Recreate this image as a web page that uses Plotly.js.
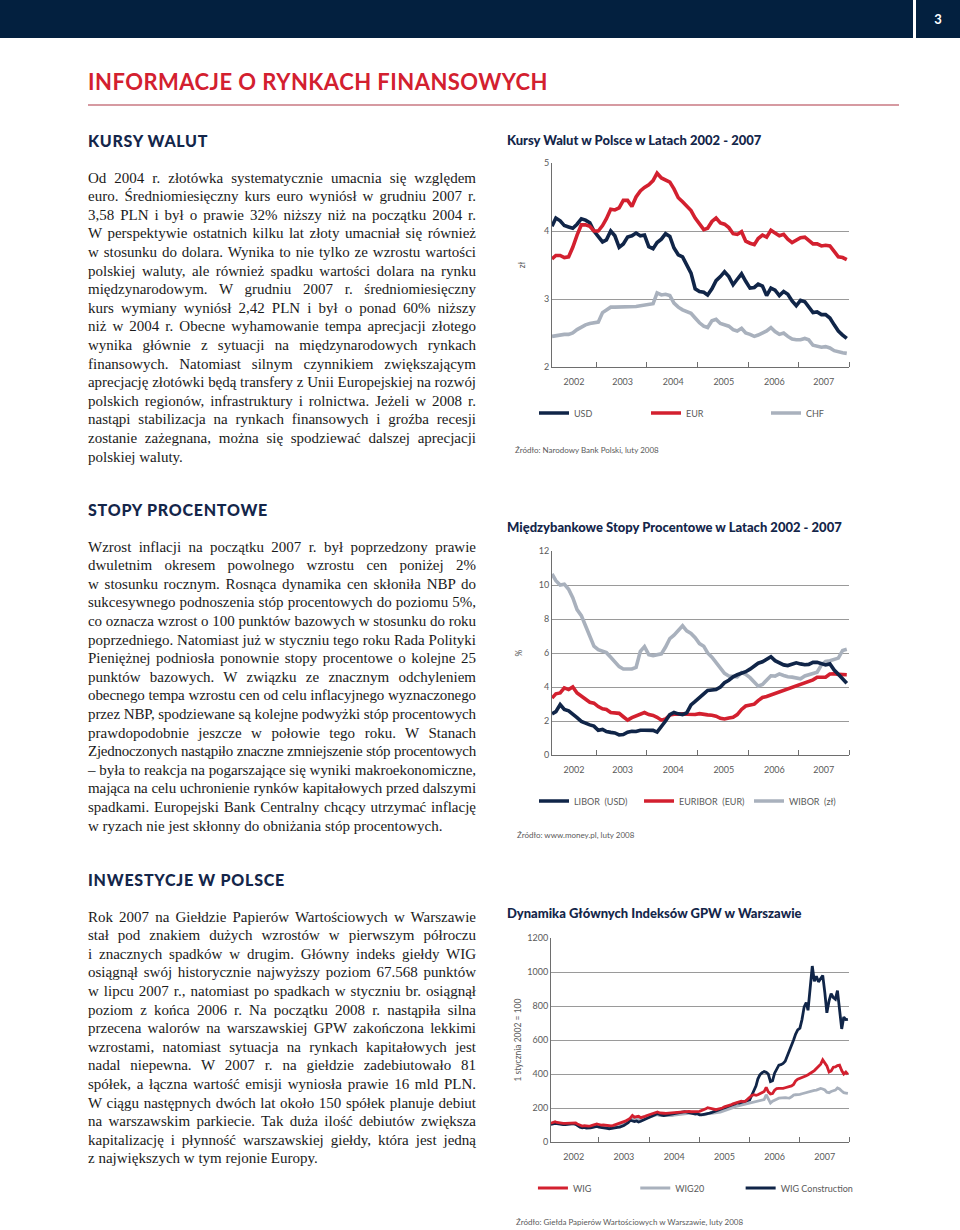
<!DOCTYPE html>
<html><head><meta charset="utf-8">
<script src="https://cdn.plot.ly/plotly-3.0.1.min.js"></script>
<style>
html,body{margin:0;padding:0;background:#fff;}
#page{position:relative;width:960px;height:1230px;overflow:hidden;background:#fff;}
.topbar{position:absolute;left:0;top:0;width:913px;height:38px;background:#03203f;}
.topbox{position:absolute;left:916px;top:0;width:44px;height:38px;background:#03203f;color:#fff;font:bold 13px Lato,sans-serif;text-align:center;line-height:38px;}
.maintitle{position:absolute;left:88px;top:70px;font:700 22px Lato,sans-serif;color:#d3202f;line-height:24px;white-space:nowrap;}
.rule{position:absolute;left:88px;top:104px;width:811px;height:2px;background:#d69aa1;}
.head{position:absolute;left:88px;font:900 16px Lato,sans-serif;color:#14264a;line-height:20px;white-space:nowrap;}
.para{position:absolute;left:88px;width:388px;font:15px "Liberation Serif",serif;color:#1a1a1a;}
.ln{height:18.6px;line-height:18.6px;text-align:justify;text-align-last:justify;}
.ln.last{text-align-last:left;}
.chart{position:absolute;left:500px;width:420px;}
</style></head>
<body><div id="page">
<div class="topbar"></div><div class="topbox">3</div>
<div class="maintitle" data-w="460">INFORMACJE O RYNKACH FINANSOWYCH</div>
<div class="rule"></div>
<div class="head" style="top:131px" data-w="120">KURSY WALUT</div>
<div class="head" style="top:500px" data-w="180">STOPY PROCENTOWE</div>
<div class="head" style="top:870px" data-w="197">INWESTYCJE W POLSCE</div>
<div class="para" id="p1" style="top:168.7px"></div>
<div class="para" id="p2" style="top:537.7px"></div>
<div class="para" id="p3" style="top:907.7px"></div>
<div class="chart" id="c1" style="top:125px;height:340px"></div>
<div class="chart" id="c2" style="top:512px;height:335px"></div>
<div class="chart" id="c3" style="top:900px;height:330px"></div>
</div>
<script>
// ---------- text ----------
const para1 = [
"Od 2004 r. złotówka systematycznie umacnia się względem",
"euro. Średniomiesięczny kurs euro wyniósł w grudniu 2007 r.",
"3,58 PLN i był o prawie 32% niższy niż na początku 2004 r.",
"W perspektywie ostatnich kilku lat złoty umacniał się również",
"w stosunku do dolara. Wynika to nie tylko ze wzrostu wartości",
"polskiej waluty, ale również spadku wartości dolara na rynku",
"międzynarodowym. W grudniu 2007 r. średniomiesięczny",
"kurs wymiany wyniósł 2,42 PLN i był o ponad 60% niższy",
"niż w 2004 r. Obecne wyhamowanie tempa aprecjacji złotego",
"wynika głównie z sytuacji na międzynarodowych rynkach",
"finansowych. Natomiast silnym czynnikiem zwiększającym",
"aprecjację złotówki będą transfery z Unii Europejskiej na rozwój",
"polskich regionów, infrastruktury i rolnictwa. Jeżeli w 2008 r.",
"nastąpi stabilizacja na rynkach finansowych i groźba recesji",
"zostanie zażegnana, można się spodziewać dalszej aprecjacji",
"polskiej waluty."];
const para2 = [
"Wzrost inflacji na początku 2007 r. był poprzedzony prawie",
"dwuletnim okresem powolnego wzrostu cen poniżej 2%",
"w stosunku rocznym. Rosnąca dynamika cen skłoniła NBP do",
"sukcesywnego podnoszenia stóp procentowych do poziomu 5%,",
"co oznacza wzrost o 100 punktów bazowych w stosunku do roku",
"poprzedniego. Natomiast już w styczniu tego roku Rada Polityki",
"Pieniężnej podniosła ponownie stopy procentowe o kolejne 25",
"punktów bazowych. W związku ze znacznym odchyleniem",
"obecnego tempa wzrostu cen od celu inflacyjnego wyznaczonego",
"przez NBP, spodziewane są kolejne podwyżki stóp procentowych",
"prawdopodobnie jeszcze w połowie tego roku. W Stanach",
"Zjednoczonych nastąpiło znaczne zmniejszenie stóp procentowych",
"– była to reakcja na pogarszające się wyniki makroekonomiczne,",
"mająca na celu uchronienie rynków kapitałowych przed dalszymi",
"spadkami. Europejski Bank Centralny chcący utrzymać inflację",
"w ryzach nie jest skłonny do obniżania stóp procentowych."];
const para3 = [
"Rok 2007 na Giełdzie Papierów Wartościowych w Warszawie",
"stał pod znakiem dużych wzrostów w pierwszym półroczu",
"i znacznych spadków w drugim. Główny indeks giełdy WIG",
"osiągnął swój historycznie najwyższy poziom 67.568 punktów",
"w lipcu 2007 r., natomiast po spadkach w styczniu br. osiągnął",
"poziom z końca 2006 r. Na początku 2008 r. nastąpiła silna",
"przecena walorów na warszawskiej GPW zakończona lekkimi",
"wzrostami, natomiast sytuacja na rynkach kapitałowych jest",
"nadal niepewna. W 2007 r. na giełdzie zadebiutowało 81",
"spółek, a łączna wartość emisji wyniosła prawie 16 mld PLN.",
"W ciągu następnych dwóch lat około 150 spółek planuje debiut",
"na warszawskim parkiecie. Tak duża ilość debiutów zwiększa",
"kapitalizację i płynność warszawskiej giełdy, która jest jedną",
"z największych w tym rejonie Europy."];

function buildPara(id, lines){
  const p = document.getElementById(id);
  const W = p.clientWidth;
  lines.forEach((t,i)=>{
    const d = document.createElement('div');
    d.className = 'ln' + (i===lines.length-1 ? ' last' : '');
    const s = document.createElement('span'); s.textContent = t; d.appendChild(s);
    p.appendChild(d);
    d.style.whiteSpace='nowrap'; d.style.textAlignLast='left';
    const w = s.getBoundingClientRect().width;
    d.style.whiteSpace=''; d.style.textAlignLast='';
    if (w > W - 0.5) d.style.letterSpacing = ((W - 0.8 - w)/t.length) + 'px';
  });
}
buildPara('p1', para1); buildPara('p2', para2); buildPara('p3', para3);
document.querySelectorAll('[data-w]').forEach(el=>{
  const target = +el.dataset.w; const n = el.textContent.length;
  const w = el.getBoundingClientRect().width;
  el.style.letterSpacing = ((target - w)/n) + 'px';
});

// ---------- data ----------
function monthDates(y0,m0,y1,m1){const out=[];let y=y0,m=m0;while(y<y1||(y===y1&&m<=m1)){out.push(y+'-'+String(m).padStart(2,'0')+'-15');m++;if(m>12){m=1;y++;}}return out;}
function halfMonthDates(){const out=['2002-01-16'];for(let y=2002;y<=2007;y++)for(let m=1;m<=12;m++){if(y===2002&&m===1)continue;const mm=String(m).padStart(2,'0');out.push(y+'-'+mm+'-01');out.push(y+'-'+mm+'-16');}return out;}
const months = monthDates(2002,2,2007,12);
const halfMonths = halfMonthDates();
const years = ['2002','2003','2004','2005','2006','2007'];

// Kursy walut (PLN), monthly Feb 2002 - Dec 2007
const usd = [4.07,4.19,4.15,4.08,4.06,4.04,4.10,4.18,4.16,4.12,4.00,
 3.91,3.84,3.87,4.00,3.93,3.76,3.81,3.91,3.93,3.97,3.93,3.94,
 3.77,3.74,3.83,3.88,3.96,3.92,3.75,3.65,3.62,3.50,3.38,3.15,
 3.11,3.10,3.06,3.15,3.27,3.33,3.40,3.33,3.21,3.29,3.37,3.26,
 3.16,3.17,3.22,3.19,3.05,3.16,3.13,3.05,3.11,3.07,2.97,2.90,
 2.98,2.96,2.88,2.80,2.81,2.77,2.77,2.72,2.62,2.53,2.47,2.42];
const eur = [3.59,3.64,3.64,3.61,3.62,3.76,3.94,4.09,4.09,4.07,4.00,
 4.00,4.08,4.18,4.32,4.31,4.34,4.45,4.45,4.36,4.50,4.59,4.64,
 4.68,4.74,4.85,4.78,4.75,4.72,4.62,4.49,4.43,4.37,4.30,4.19,
 4.11,4.02,4.04,4.14,4.19,4.12,4.10,4.05,3.96,3.95,3.99,3.85,
 3.82,3.80,3.89,3.94,3.91,4.01,3.97,3.93,3.95,3.88,3.83,3.86,
 3.90,3.91,3.86,3.81,3.81,3.78,3.79,3.78,3.70,3.62,3.61,3.58];
const chf = [2.45,2.46,2.48,2.48,2.48,2.50,2.55,2.59,2.62,2.64,2.65,
 2.66,2.80,2.84,2.88,2.88,2.88,2.88,2.89,2.88,2.89,2.90,2.91,
 2.92,2.93,3.09,3.06,3.07,3.05,2.94,2.88,2.84,2.82,2.79,2.72,
 2.65,2.60,2.58,2.68,2.70,2.64,2.62,2.60,2.55,2.53,2.57,2.50,
 2.48,2.45,2.47,2.50,2.53,2.58,2.52,2.48,2.50,2.45,2.41,2.40,
 2.40,2.42,2.40,2.32,2.30,2.29,2.30,2.28,2.24,2.22,2.21,2.20];

// Stopy procentowe (%), monthly Feb 2002 - Dec 2007
const libor = [2.42,2.55,2.97,2.68,2.60,2.42,2.20,1.98,1.85,1.77,1.70,
 1.45,1.50,1.38,1.33,1.30,1.18,1.20,1.34,1.40,1.38,1.46,1.46,
 1.46,1.45,1.35,1.65,2.00,2.38,2.50,2.42,2.38,2.48,2.95,3.15,
 3.35,3.60,3.80,3.82,3.85,4.00,4.25,4.40,4.60,4.72,4.80,4.90,
 5.05,5.23,5.40,5.48,5.65,5.78,5.55,5.42,5.30,5.26,5.33,5.42,
 5.36,5.31,5.33,5.45,5.45,5.40,5.30,5.36,5.00,4.75,4.48,4.22];
const euribor = [3.35,3.60,3.65,3.95,3.85,4.00,3.65,3.45,3.30,3.10,3.05,
 2.85,2.72,2.68,2.50,2.48,2.45,2.25,2.05,2.20,2.30,2.42,2.50,
 2.38,2.33,2.22,2.05,2.12,2.35,2.40,2.42,2.42,2.40,2.38,2.38,
 2.43,2.38,2.36,2.34,2.28,2.16,2.12,2.18,2.22,2.38,2.68,2.88,
 2.95,2.99,3.20,3.38,3.44,3.53,3.57,3.68,3.76,3.85,3.98,4.07,
 4.12,4.23,4.33,4.42,4.57,4.57,4.57,4.76,4.78,4.74,4.72,4.72];
const wibor = [10.65,10.25,10.0,10.05,9.75,9.25,8.55,8.2,7.6,6.95,6.4,
 6.2,6.13,6.02,5.75,5.5,5.2,5.06,5.06,5.06,5.15,6.1,6.38,
 5.9,5.85,5.92,5.95,6.35,6.85,7.05,7.35,7.6,7.3,7.15,6.9,
 6.55,6.4,6.0,5.75,5.45,5.1,4.8,4.65,4.6,4.6,4.85,4.75,
 4.55,4.3,4.05,4.15,4.38,4.66,4.64,4.77,4.68,4.6,4.58,4.55,
 4.48,4.65,4.72,4.77,4.87,5.3,5.5,5.55,5.62,5.7,6.15,6.22];

// Indeksy GPW (1 stycznia 2002 = 100), semi-monthly
const wig = [110,115,119,115,112,111,110,109,110,112,113,114,112,104,97,94,96,93,93,95,99,104,106,
 103,99,100,98,96,94,95,98,102,105,108,113,118,124,132,140,156,146,149,151,143,145,151,156,
 160,164,170,172,177,171,172,169,168,169,170,172,174,177,177,179,180,181,182,180,178,177,177,179,
 180,184,189,195,202,198,195,192,190,194,196,200,207,210,215,218,224,229,233,238,240,238,240,252,
 265,274,278,275,278,284,290,297,322,295,283,285,305,314,316,314,315,319,322,325,330,338,360,370,
 375,377,382,390,396,402,412,420,432,445,458,483,465,448,412,418,440,442,450,452,420,400,412,398];
const wig20 = [108,112,115,112,108,107,106,105,106,108,109,110,107,99,92,89,91,88,88,90,93,98,100,
 97,93,94,92,89,87,88,90,94,97,100,104,109,115,122,130,142,134,136,138,131,133,138,143,
 147,150,155,157,161,156,156,153,152,153,154,156,158,160,160,162,164,166,168,170,170,168,166,164,
 163,161,160,163,168,170,169,170,171,174,176,180,184,187,190,196,202,208,211,214,218,221,224,227,
 230,232,235,237,239,242,245,250,278,250,229,240,248,252,258,260,262,261,259,258,266,276,278,278,
 280,284,288,292,296,299,300,303,305,309,315,312,306,293,290,297,302,305,318,312,300,290,288,286];
const wigBud = [104,108,110,108,105,104,103,102,104,106,107,108,104,95,87,84,86,82,81,83,86,90,92,
 88,85,86,83,80,78,79,81,84,86,88,92,97,105,114,128,122,120,124,118,122,128,135,140,
 145,152,160,162,166,160,158,156,158,160,163,166,170,172,170,172,175,178,176,172,168,166,164,167,
 160,160,162,164,167,170,174,178,183,188,191,197,200,205,209,213,219,224,229,229,233,238,241,245,
 248,275,305,330,370,395,408,414,410,400,355,360,405,432,452,455,462,475,505,532,560,600,635,660,
 670,720,795,820,775,900,1035,945,975,942,960,980,880,760,830,872,850,840,890,780,665,735,720,722];

// ---------- charts ----------
const NAVY='#102548', RED='#d3202f', GRAY='#a9b1bd', TXT='#5a5a5a', FONT='Lato, sans-serif';
const labelDates12 = ['2002-07-24','2003-07-10','2004-07-10','2005-07-10','2006-07-10','2007-07-01'];
const labelDates3 = ['2002-07-01','2003-07-01','2004-07-01','2005-07-01','2006-07-01','2007-07-01'];
const yearTicks12 = ['2003-01-01','2004-01-01','2005-01-01','2006-01-01','2007-01-01','2007-12-31'];
const yearTicks3 = ['2003-01-01','2004-01-01','2005-01-01','2006-01-01','2007-01-01','2007-12-24'];

function xaxis(range, labels, ticksAt){
  return {type:'date', range:range, tickmode:'array', tickvals:labels, ticktext:years, ticks:'',
    showline:true, linecolor:'#6e6e6e', linewidth:1, showgrid:false, zeroline:false,
    tickfont:{family:FONT,size:9,color:TXT}, ticklabelstandoff:6,
    minor:{tickmode:'array', tickvals:ticksAt, ticks:'inside', ticklen:5, tickwidth:1, tickcolor:'#6e6e6e', showgrid:false}};
}
function yaxis(range, dtick, title, standoff){
  return {range:range, dtick:dtick, tick0:range[0], showgrid:true, gridcolor:'#9a9a9a', gridwidth:1,
    showline:true, linecolor:'#6e6e6e', linewidth:1, zeroline:false, ticks:'',
    tickfont:{family:FONT,size:9,color:TXT},
    title:{text:title, font:{family:FONT,size:8.5,color:TXT}, standoff:standoff}};
}
function leg(x){
  return {orientation:'h', x:x, xanchor:'left', y:-0.2255, yanchor:'middle',
    font:{family:FONT,size:9,color:TXT}, itemwidth:30, bgcolor:'rgba(0,0,0,0)', borderwidth:0};
}
function baseLayout(title, titleY, m, legX, src, srcX, srcY){
  return {
    width:420, height:m.h, margin:{l:m.l, r:m.r, t:m.t, b:m.b}, paper_bgcolor:'rgba(0,0,0,0)', plot_bgcolor:'#fff',
    font:{family:FONT,color:TXT},
    title:{text:title, x:7/420, xref:'container', xanchor:'left', y:titleY, yref:'container', yanchor:'middle',
      font:{family:FONT,size:13,weight:900,color:'#14264a'}},
    showlegend:true,
    legend:leg(legX[0]), legend2:leg(legX[1]), legend3:leg(legX[2]),
    annotations:[{text:src, xref:'paper', yref:'paper', x:srcX, y:srcY, xanchor:'left', yanchor:'middle', showarrow:false,
      font:{family:FONT,size:8,color:TXT}}]
  };
}
const cfg = {staticPlot:true, displayModeBar:false};

// Chart 1
Plotly.newPlot('c1', [
  {x:months, y:usd, name:'USD', mode:'lines', line:{color:NAVY,width:3.6}, legend:'legend'},
  {x:months, y:eur, name:'EUR', mode:'lines', line:{color:RED,width:3.6}, legend:'legend2'},
  {x:months, y:chf, name:'CHF', mode:'lines', line:{color:GRAY,width:3.6}, legend:'legend3'}
], Object.assign(baseLayout('Kursy Walut w Polsce w Latach 2002 - 2007', 1-15/340, {h:340,l:52,r:71,t:38,b:98},
  [-0.0606, 0.3165, 0.7205], 'Źródło: Narodowy Bank Polski, luty 2008', -0.131, -0.407), {
  xaxis: xaxis(['2002-02-15','2007-12-31'], labelDates12, yearTicks12),
  yaxis: yaxis([2,5], 1, 'zł', 16)
}), cfg);

// Chart 2
Plotly.newPlot('c2', [
  {x:months, y:wibor, name:'WIBOR  (zł)', mode:'lines', line:{color:GRAY,width:3.6}, legend:'legend3'},
  {x:months, y:euribor, name:'EURIBOR  (EUR)', mode:'lines', line:{color:RED,width:3.6}, legend:'legend2'},
  {x:months, y:libor, name:'LIBOR  (USD)', mode:'lines', line:{color:NAVY,width:3.6}, legend:'legend'}
], Object.assign(baseLayout('Międzybankowe Stopy Procentowe w Latach 2002 - 2007', 1-15/335, {h:335,l:52,r:71,t:39,b:92},
  [-0.0606, 0.293, 0.6633], 'Źródło: www.money.pl, luty 2008', -0.125, -0.392), {
  xaxis: xaxis(['2002-02-15','2007-12-31'], labelDates12, yearTicks12),
  yaxis: yaxis([0,12], 2, '%', 14)
}), cfg);

// Chart 3
Plotly.newPlot('c3', [
  {x:halfMonths, y:wig20, name:'WIG20', mode:'lines', line:{color:GRAY,width:2.8}, legend:'legend2'},
  {x:halfMonths, y:wigBud, name:'WIG Construction', mode:'lines', line:{color:NAVY,width:2.8}, legend:'legend3'},
  {x:halfMonths, y:wig, name:'WIG', mode:'lines', line:{color:RED,width:2.8}, legend:'legend'}
], Object.assign(baseLayout('Dynamika Głównych Indeksów GPW w Warszawie', 1-13/330, {h:330,l:51,r:71,t:38,b:88},
  [-0.0606, 0.2828, 0.6364], 'Źródło: Giełda Papierów Wartościowych w Warszawie, luty 2008', -0.125, -0.392), {
  xaxis: xaxis(['2002-01-17','2007-12-24'], labelDates3, yearTicks3),
  yaxis: yaxis([0,1200], 200, '1 stycznia 2002 = 100', 4)
}), cfg);
</script>
</body></html>
